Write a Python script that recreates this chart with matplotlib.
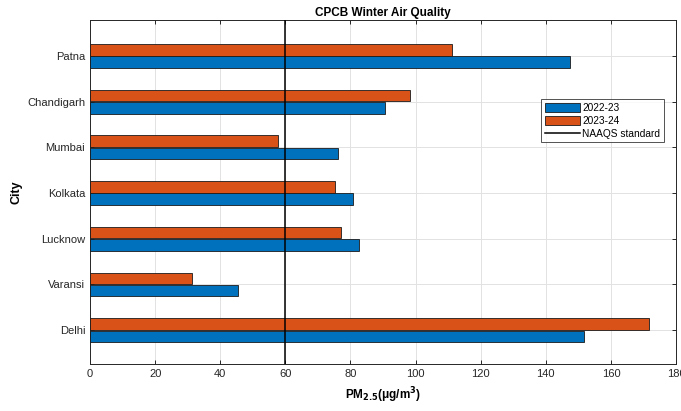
import matplotlib
matplotlib.use('Agg')
import matplotlib.pyplot as plt
import numpy as np

# --- data ---
cities = ["Delhi", "Varansi", "Lucknow", "Kolkata", "Mumbai", "Chandigarh", "Patna"]
pm_2022_23 = [151.6, 45.5, 82.6, 80.8, 76.1, 90.5, 147.4]
pm_2023_24 = [171.8, 31.2, 77.2, 75.1, 57.7, 98.3, 111.2]
naaqs = 60
xticks = np.arange(0, 181, 20)

blue = "#0072BD"
orange = "#D95319"
axis_col = "#262626"

plt.rcParams['font.family'] = ['Liberation Sans', 'DejaVu Sans']

fig = plt.figure(figsize=(6.81, 4.11), dpi=100)
ax = fig.add_axes([0.1322, 0.1144, 0.9927 - 0.1322, 0.9513 - 0.1144])

y = np.arange(1, len(cities) + 1)
h = 0.255
off = 0.135
b1 = ax.barh(y - off, pm_2022_23, height=h, color=blue, edgecolor="#1a1a1a",
             linewidth=0.6, label="2022-23", zorder=3)
b2 = ax.barh(y + off, pm_2023_24, height=h, color=orange, edgecolor="#1a1a1a",
             linewidth=0.6, label="2023-24", zorder=3)
ln = ax.axvline(naaqs, color="black", linewidth=1.1, label="NAAQS standard", zorder=4)

ax.set_xlim(0, 180)
ax.set_ylim(0.26, 7.79)
ax.set_xticks(xticks)
ax.set_yticks(y)
ax.set_yticklabels(cities)

ax.grid(True, color="#e2e2e2", linewidth=0.7, zorder=0)
ax.set_axisbelow(True)
ax.tick_params(direction="in", top=True, right=True, labelsize=8,
               colors=axis_col, length=3, width=0.7)
for s in ax.spines.values():
    s.set_color(axis_col)
    s.set_linewidth(0.7)

ax.set_title("CPCB Winter Air Quality", fontsize=8.5, fontweight="bold", pad=3)
ax.set_xlabel("PM$_{\\mathbf{2.5}}$(μg/m$^{\\mathbf{3}}$)", fontsize=8.5,
              fontweight="bold", labelpad=5)
ax.set_ylabel("City", fontsize=9, fontweight="bold")
ax.yaxis.set_label_coords(-0.115, 0.5)

leg = ax.legend([b1, b2, ln], ["2022-23", "2023-24", "NAAQS standard"],
                loc="upper left", bbox_to_anchor=(0.77, 0.77), fontsize=7.3,
                frameon=True, fancybox=False, edgecolor=axis_col,
                borderpad=0.35, labelspacing=0.3, handlelength=3.5,
                handleheight=1.0, handletextpad=0.2, borderaxespad=0)
leg.get_frame().set_linewidth(0.7)

plt.savefig("out.png", dpi=100)
plt.close(fig)
